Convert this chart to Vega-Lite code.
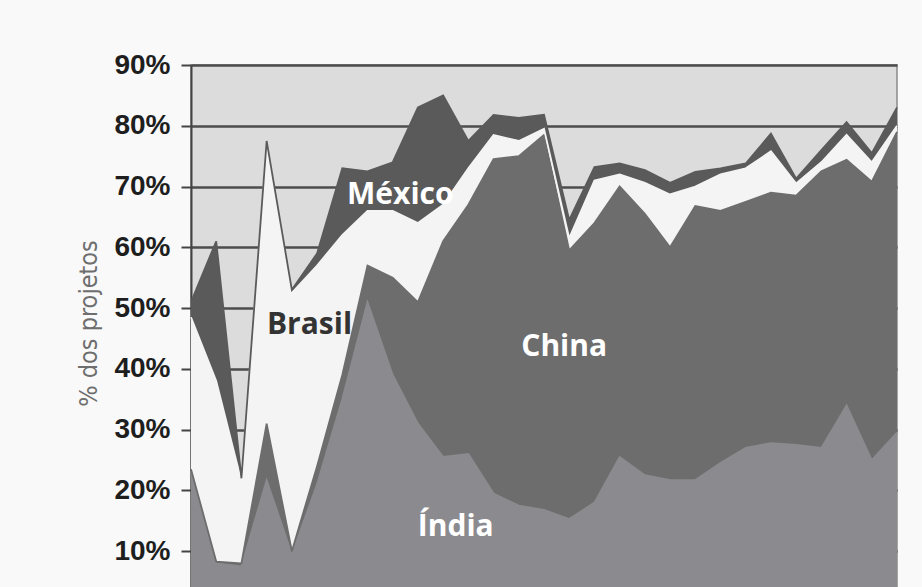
{
  "$schema": "https://vega.github.io/schema/vega-lite/v6.json",
  "width": 706,
  "height": 547,
  "autosize": "none",
  "padding": {"left": 191, "top": 65, "right": 25, "bottom": 0},
  "background": "#f9f9f9",
  "config": {
    "view": {"fill": "#dcdcdc", "stroke": "#8a8a8a", "strokeWidth": 1.5},
    "axis": {"labelFont": "Liberation Sans", "titleFont": "'DejaVu Sans Condensed', 'Open Sans', sans-serif"}
  },
  "datasets": {
    "shares": [
      {"t":0,"pais":"Índia","o":1,"v":23},{"t":0,"pais":"China","o":2,"v":0.5},{"t":0,"pais":"Brasil","o":3,"v":25},{"t":0,"pais":"México","o":4,"v":2.5},
      {"t":1,"pais":"Índia","o":1,"v":8},{"t":1,"pais":"China","o":2,"v":0.3},{"t":1,"pais":"Brasil","o":3,"v":29.7},{"t":1,"pais":"México","o":4,"v":23},
      {"t":2,"pais":"Índia","o":1,"v":7.5},{"t":2,"pais":"China","o":2,"v":0.5},{"t":2,"pais":"Brasil","o":3,"v":13.5},{"t":2,"pais":"México","o":4,"v":0.5},
      {"t":3,"pais":"Índia","o":1,"v":21.7},{"t":3,"pais":"China","o":2,"v":9.3},{"t":3,"pais":"Brasil","o":3,"v":46},{"t":3,"pais":"México","o":4,"v":0.5},
      {"t":4,"pais":"Índia","o":1,"v":9.5},{"t":4,"pais":"China","o":2,"v":0.5},{"t":4,"pais":"Brasil","o":3,"v":42.5},{"t":4,"pais":"México","o":4,"v":0.5},
      {"t":5,"pais":"Índia","o":1,"v":21},{"t":5,"pais":"China","o":2,"v":3},{"t":5,"pais":"Brasil","o":3,"v":33},{"t":5,"pais":"México","o":4,"v":2},
      {"t":6,"pais":"Índia","o":1,"v":35},{"t":6,"pais":"China","o":2,"v":4},{"t":6,"pais":"Brasil","o":3,"v":23},{"t":6,"pais":"México","o":4,"v":11},
      {"t":7,"pais":"Índia","o":1,"v":51},{"t":7,"pais":"China","o":2,"v":6},{"t":7,"pais":"Brasil","o":3,"v":9},{"t":7,"pais":"México","o":4,"v":6.5},
      {"t":8,"pais":"Índia","o":1,"v":39},{"t":8,"pais":"China","o":2,"v":16},{"t":8,"pais":"Brasil","o":3,"v":11},{"t":8,"pais":"México","o":4,"v":8},
      {"t":9,"pais":"Índia","o":1,"v":31},{"t":9,"pais":"China","o":2,"v":20},{"t":9,"pais":"Brasil","o":3,"v":13},{"t":9,"pais":"México","o":4,"v":19},
      {"t":10,"pais":"Índia","o":1,"v":25.5},{"t":10,"pais":"China","o":2,"v":35.5},{"t":10,"pais":"Brasil","o":3,"v":6},{"t":10,"pais":"México","o":4,"v":18},
      {"t":11,"pais":"Índia","o":1,"v":26},{"t":11,"pais":"China","o":2,"v":41},{"t":11,"pais":"Brasil","o":3,"v":6},{"t":11,"pais":"México","o":4,"v":4.5},
      {"t":12,"pais":"Índia","o":1,"v":19.5},{"t":12,"pais":"China","o":2,"v":55},{"t":12,"pais":"Brasil","o":3,"v":4},{"t":12,"pais":"México","o":4,"v":3.3},
      {"t":13,"pais":"Índia","o":1,"v":17.5},{"t":13,"pais":"China","o":2,"v":57.5},{"t":13,"pais":"Brasil","o":3,"v":2.5},{"t":13,"pais":"México","o":4,"v":3.8},
      {"t":14,"pais":"Índia","o":1,"v":16.8},{"t":14,"pais":"China","o":2,"v":61.7},{"t":14,"pais":"Brasil","o":3,"v":1},{"t":14,"pais":"México","o":4,"v":2.3},
      {"t":15,"pais":"Índia","o":1,"v":15.3},{"t":15,"pais":"China","o":2,"v":44.2},{"t":15,"pais":"Brasil","o":3,"v":2},{"t":15,"pais":"México","o":4,"v":3},
      {"t":16,"pais":"Índia","o":1,"v":18},{"t":16,"pais":"China","o":2,"v":46},{"t":16,"pais":"Brasil","o":3,"v":7},{"t":16,"pais":"México","o":4,"v":2.2},
      {"t":17,"pais":"Índia","o":1,"v":25.5},{"t":17,"pais":"China","o":2,"v":44.5},{"t":17,"pais":"Brasil","o":3,"v":2},{"t":17,"pais":"México","o":4,"v":1.8},
      {"t":18,"pais":"Índia","o":1,"v":22.5},{"t":18,"pais":"China","o":2,"v":43},{"t":18,"pais":"Brasil","o":3,"v":5.1},{"t":18,"pais":"México","o":4,"v":2.1},
      {"t":19,"pais":"Índia","o":1,"v":21.7},{"t":19,"pais":"China","o":2,"v":38.3},{"t":19,"pais":"Brasil","o":3,"v":8.7},{"t":19,"pais":"México","o":4,"v":1.9},
      {"t":20,"pais":"Índia","o":1,"v":21.7},{"t":20,"pais":"China","o":2,"v":45.1},{"t":20,"pais":"Brasil","o":3,"v":3.2},{"t":20,"pais":"México","o":4,"v":2.4},
      {"t":21,"pais":"Índia","o":1,"v":24.5},{"t":21,"pais":"China","o":2,"v":41.5},{"t":21,"pais":"Brasil","o":3,"v":6},{"t":21,"pais":"México","o":4,"v":1},
      {"t":22,"pais":"Índia","o":1,"v":27},{"t":22,"pais":"China","o":2,"v":40.5},{"t":22,"pais":"Brasil","o":3,"v":5.5},{"t":22,"pais":"México","o":4,"v":0.8},
      {"t":23,"pais":"Índia","o":1,"v":27.8},{"t":23,"pais":"China","o":2,"v":41.2},{"t":23,"pais":"Brasil","o":3,"v":6.8},{"t":23,"pais":"México","o":4,"v":2.9},
      {"t":24,"pais":"Índia","o":1,"v":27.5},{"t":24,"pais":"China","o":2,"v":41},{"t":24,"pais":"Brasil","o":3,"v":2},{"t":24,"pais":"México","o":4,"v":0.8},
      {"t":25,"pais":"Índia","o":1,"v":27},{"t":25,"pais":"China","o":2,"v":45.5},{"t":25,"pais":"Brasil","o":3,"v":1.5},{"t":25,"pais":"México","o":4,"v":2},
      {"t":26,"pais":"Índia","o":1,"v":34},{"t":26,"pais":"China","o":2,"v":40.4},{"t":26,"pais":"Brasil","o":3,"v":4.1},{"t":26,"pais":"México","o":4,"v":2.1},
      {"t":27,"pais":"Índia","o":1,"v":25},{"t":27,"pais":"China","o":2,"v":45.8},{"t":27,"pais":"Brasil","o":3,"v":3.2},{"t":27,"pais":"México","o":4,"v":1.5},
      {"t":28,"pais":"Índia","o":1,"v":29.5},{"t":28,"pais":"China","o":2,"v":49.5},{"t":28,"pais":"Brasil","o":3,"v":1},{"t":28,"pais":"México","o":4,"v":3}
    ],
    "labels": [
      {"label": "México", "t": 8.3, "v": 68.6},
      {"label": "Brasil", "t": 4.7, "v": 47.2},
      {"label": "China", "t": 14.8, "v": 43.6},
      {"label": "Índia", "t": 10.5, "v": 14}
    ]
  },
  "layer": [
    {
      "data": {"name": "shares"},
      "mark": {"type": "area", "interpolate": "linear", "opacity": 1, "fillOpacity": 1, "line": {"color": "#2f2f2f", "strokeWidth": 1.8}},
      "encoding": {
        "x": {"field": "t", "type": "quantitative", "scale": {"domain": [0, 28], "nice": false, "zero": false}, "axis": null},
        "y": {
          "field": "v", "type": "quantitative", "stack": "zero",
          "scale": {"domain": [0, 90], "nice": false},
          "axis": {
            "title": "% dos projetos",
            "values": [10, 20, 30, 40, 50, 60, 70, 80, 90],
            "labelExpr": "datum.value + '%'",
            "labelFontSize": 28, "labelFontWeight": "bold", "labelColor": "#1e1e1e",
            "labelPadding": 11,
            "tickSize": 10, "tickWidth": 2, "tickColor": "#444",
            "domainColor": "#444", "domainWidth": 2,
            "grid": true, "gridColor": "#4d4d4d", "gridWidth": 2.5, "gridOpacity": 1,
            "titleFontSize": 25, "titleFontWeight": "normal", "titleColor": "#6e6e6e",
            "titlePadding": 12, "titleY": 258
          }
        },
        "color": {
          "field": "pais", "type": "nominal",
          "scale": {"domain": ["Índia", "China", "Brasil", "México"], "range": ["#8b8b8f", "#6d6d6d", "#f4f4f4", "#5a5a5a"]},
          "legend": null
        },
        "order": {"field": "o", "type": "quantitative"}
      }
    },
    {
      "data": {"name": "labels"},
      "mark": {"type": "text", "font": "Open Sans", "fontSize": 30, "fontWeight": "bold", "align": "center", "baseline": "middle"},
      "encoding": {
        "x": {"field": "t", "type": "quantitative"},
        "y": {"field": "v", "type": "quantitative"},
        "text": {"field": "label"},
        "color": {"condition": {"test": "datum.label === 'Brasil'", "value": "#333333"}, "value": "#ffffff"}
      }
    }
  ]
}
